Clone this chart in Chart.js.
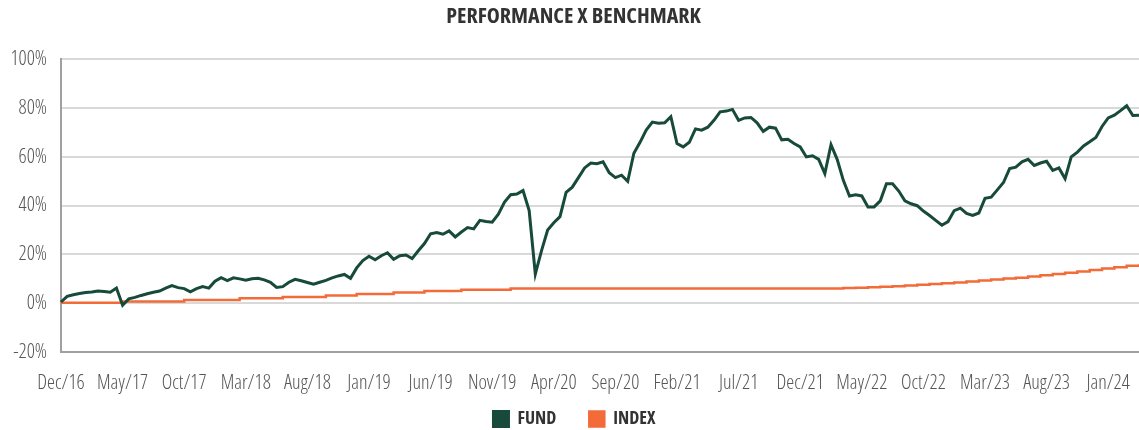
<!DOCTYPE html>
<html>
<head>
<meta charset="utf-8">
<script src="https://cdn.jsdelivr.net/npm/chart.js@4.4.1/dist/chart.umd.min.js"></script>
<style>
  html, body { margin: 0; padding: 0; background: #ffffff; }
  #wrap { width: 1139px; height: 430px; }
</style>
</head>
<body>
<div id="wrap"><canvas id="c" width="1139" height="430"></canvas></div>
<script>
// ---- DATA (semi-monthly observations, Dec/16 .. Mar/24) ----
const monthNames = ['Jan','Feb','Mar','Apr','May','Jun','Jul','Aug','Sep','Oct','Nov','Dec'];
const startYear = 2016, startMonth = 11, monthCount = 88;
const categories = [];
for (let m = 0; m < monthCount; m++) {
  const mi = (startMonth + m) % 12;
  const yy = String((startYear + Math.floor((startMonth + m) / 12)) % 100).padStart(2, '0');
  categories.push(monthNames[mi] + '/' + yy + ' (1)');
  categories.push(monthNames[mi] + '/' + yy + ' (2)');
}

const tickLabels = ['Dec/16','May/17','Oct/17','Mar/18','Aug/18','Jan/19','Jun/19','Nov/19','Apr/20',
  'Sep/20','Feb/21','Jul/21','Dec/21','May/22','Oct/22','Mar/23','Aug/23','Jan/24'];

const fundValues = [
  0.5, 2.8, 3.5, 4.0, 4.4, 4.6, 5.0, 4.8, 4.5, 6.2,
  -0.8, 1.8, 2.4, 3.2, 3.9, 4.5, 5.0, 6.2, 7.2, 6.4,
  6.0, 4.7, 6.0, 6.8, 6.2, 9.0, 10.5, 9.3, 10.4, 10.0,
  9.4, 10.0, 10.2, 9.6, 8.6, 6.5, 6.8, 8.6, 9.8, 9.2,
  8.5, 7.8, 8.6, 9.4, 10.4, 11.2, 11.8, 10.2, 14.5, 17.5,
  19.3, 17.8, 19.5, 20.7, 18.0, 19.5, 19.8, 18.3, 21.5, 24.5,
  28.5, 29.0, 28.3, 29.7, 27.2, 29.2, 31.0, 30.5, 34.0, 33.5,
  33.2, 36.5, 41.5, 44.5, 44.8, 46.2, 38.0, 12.0, 21.5, 30.0,
  33.0, 35.5, 45.5, 47.6, 51.5, 55.5, 57.5, 57.2, 58.0, 53.5,
  51.5, 52.5, 50.0, 61.5, 66.0, 71.0, 74.3, 73.8, 74.0, 76.5,
  65.5, 64.1, 66.0, 71.5, 71.0, 72.2, 75.0, 78.5, 78.8, 79.5,
  75.0, 76.0, 76.2, 74.0, 70.5, 72.2, 71.8, 67.0, 67.2, 65.5,
  64.1, 60.0, 60.5, 59.0, 53.2, 65.0, 59.0, 50.4, 44.0, 44.5,
  44.0, 39.5, 39.5, 42.0, 49.0, 49.0, 46.0, 42.0, 40.8, 40.0,
  37.8, 36.0, 34.0, 32.0, 33.5, 38.0, 39.0, 36.8, 36.0, 37.0,
  43.0, 43.5, 46.5, 49.5, 55.2, 55.8, 58.0, 59.0, 56.5, 57.5,
  58.2, 54.5, 55.5, 51.1, 60.0, 62.0, 64.5, 66.2, 68.0, 72.5,
  76.0, 77.1, 79.0, 81.0, 77.0, 77.1
];

const indexValues = [
  0.2, 0.2, 0.2, 0.2, 0.2, 0.2, 0.2, 0.2, 0.2, 0.2,
  0.7, 0.7, 0.7, 0.7, 0.7, 0.7, 0.7, 0.7, 0.7, 0.7,
  1.3, 1.3, 1.3, 1.3, 1.3, 1.3, 1.3, 1.3, 1.3,
  2.0, 2.0, 2.0, 2.0, 2.0, 2.0, 2.0,
  2.6, 2.6, 2.6, 2.6, 2.6, 2.6, 2.6,
  3.2, 3.2, 3.2, 3.2, 3.2,
  3.8, 3.8, 3.8, 3.8, 3.8, 3.8,
  4.4, 4.4, 4.4, 4.4, 4.4,
  5.0, 5.0, 5.0, 5.0, 5.0, 5.0,
  5.5, 5.5, 5.5, 5.5, 5.5, 5.5, 5.5, 5.5,
  6.0, 6.0, 6.0, 6.0, 6.0, 6.0, 6.0, 6.0, 6.0, 6.0,
  6.0, 6.0, 6.0, 6.0, 6.0, 6.0, 6.0, 6.0, 6.0, 6.0,
  6.0, 6.0, 6.0, 6.0, 6.0, 6.0, 6.0, 6.0, 6.0, 6.0,
  6.0, 6.0, 6.0, 6.0, 6.0, 6.0, 6.0, 6.0, 6.0, 6.0,
  6.0, 6.0, 6.0, 6.0, 6.0, 6.0, 6.0, 6.0, 6.0, 6.0,
  6.0, 6.0, 6.0, 6.0,
  6.2, 6.2, 6.4, 6.4, 6.6, 6.6, 6.8, 6.8, 7.0, 7.0,
  7.3, 7.3, 7.6, 7.6, 7.9, 7.9, 8.2, 8.2, 8.5, 8.5,
  8.9, 8.9, 9.3, 9.3, 9.7, 9.7, 10.1, 10.1, 10.5, 10.5,
  11.0, 11.0, 11.5, 11.5, 12.0, 12.0, 12.5, 12.5, 13.0, 13.0,
  13.6, 13.6, 14.2, 14.2, 14.8, 14.8, 15.4, 15.4, 16.0
];

const yTicks = [-20, 0, 20, 40, 60, 80, 100];
const seriesNames = ['FUND', 'INDEX'];
const seriesColors = ['#174a3a', '#f26b38'];

// ---- CHART ----
const FONT = "'Open Sans', sans-serif";

// nudge title and legend horizontally to match the reference centring
const nudgePlugin = {
  id: 'nudge',
  afterLayout(chart) {
    if (chart.titleBlock) { chart.titleBlock.left += 4; chart.titleBlock.right += 4; }
    if (chart.legend) { chart.legend.left += 5; chart.legend.right += 5; }
  }
};

new Chart(document.getElementById('c'), {
  type: 'line',
  plugins: [nudgePlugin],
  data: {
    labels: categories,
    datasets: [
      {
        label: seriesNames[0],
        data: fundValues,
        borderColor: seriesColors[0],
        backgroundColor: seriesColors[0],
        borderWidth: 3,
        pointRadius: 0,
        tension: 0,
        fill: false
      },
      {
        label: seriesNames[1],
        data: indexValues,
        borderColor: seriesColors[1],
        backgroundColor: seriesColors[1],
        borderWidth: 2.5,
        pointRadius: 0,
        stepped: true,
        fill: false
      }
    ]
  },
  options: {
    responsive: false,
    animation: false,
    devicePixelRatio: 1,
    layout: { padding: { left: 0, right: 0, top: 0, bottom: -8 } },
    plugins: {
      title: {
        display: true,
        text: 'PERFORMANCE X BENCHMARK',
        color: '#333333',
        font: { family: FONT, size: 22, weight: 'condensed bold' },
        padding: { top: 4, bottom: 29 }
      },
      legend: {
        display: true,
        position: 'bottom',
        labels: {
          color: '#333333',
          font: { family: FONT, size: 18, weight: 'condensed bold' },
          boxWidth: 15,
          boxHeight: 15,
          padding: 33
        }
      },
      tooltip: { enabled: false }
    },
    scales: {
      x: {
        type: 'category',
        offset: false,
        grid: { display: false, drawTicks: false },
        border: { display: true, color: '#a0a0a0', width: 2 },
        afterFit: function (scale) {
          scale.paddingRight = 0;
          scale.height = 25;
          scale._computeLabelArea = function () { return undefined; };
        },
        ticks: {
          autoSkip: false,
          maxRotation: 0,
          minRotation: 0,
          padding: 19,
          color: '#555555',
          font: { family: FONT, size: 20, weight: 'condensed 300' },
          callback: function (val, index) {
            return index % 10 === 0 ? tickLabels[index / 10] : '';
          }
        }
      },
      y: {
        min: -20,
        max: 100,
        afterBuildTicks: function (scale) {
          scale.ticks = yTicks.map(v => ({ value: v }));
        },
        afterFit: function (scale) { scale.width = 61; },
        grid: { color: '#d9d9d9', lineWidth: 2, drawTicks: false },
        border: { display: true, color: '#a0a0a0', width: 2 },
        ticks: {
          padding: 14,
          color: '#555555',
          font: { family: FONT, size: 20, weight: 'condensed 300' },
          callback: function (v) { return v + '%'; }
        }
      }
    }
  }
});
</script>
</body>
</html>
